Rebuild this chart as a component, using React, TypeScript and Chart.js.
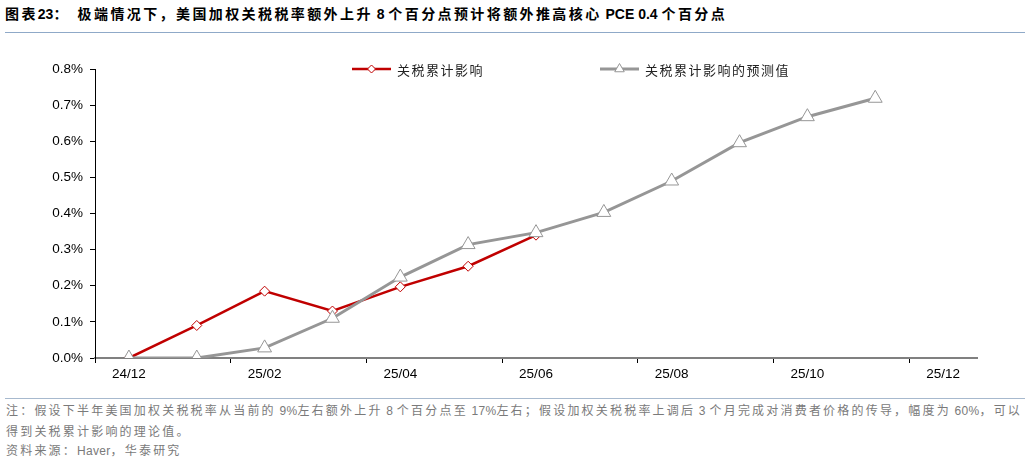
import React, { useEffect, useRef } from "react";
import { Chart, registerables } from "chart.js";

Chart.register(...registerables);

// ---- data ----
const categories = [
  "24/12", "25/01", "25/02", "25/03", "25/04", "25/05", "25/06",
  "25/07", "25/08", "25/09", "25/10", "25/11", "25/12",
];
const actualImpact = [0, 0.09, 0.185, 0.13, 0.197, 0.254, 0.34, null, null, null, null, null, null];
const forecastImpact = [0, 0, 0.028, 0.11, 0.224, 0.314, 0.347, 0.403, 0.49, 0.596, 0.668, 0.719, null];
const seriesNames = ["关税累计影响", "关税累计影响的预测值"];
const yMin = 0;
const yMax = 0.8;
const yStep = 0.1;

const titleText =
  "图表23：  极端情况下，美国加权关税税率额外上升 8 个百分点预计将额外推高核心 PCE 0.4 个百分点";
const noteLine1 =
  "注：假设下半年美国加权关税税率从当前的 9%左右额外上升 8 个百分点至 17%左右；假设加权关税税率上调后 3 个月完成对消费者价格的传导，幅度为 60%，可以";
const noteLine2 = "得到关税累计影响的理论值。";
const sourceLine = "资料来源：Haver，华泰研究";

const RED = "#C00000";
const GRAY = "#969696";

function drawMarker(ctx: CanvasRenderingContext2D, style: string, x: number, y: number, r: number, stroke: string) {
  ctx.save();
  ctx.beginPath();
  if (style === "rectRot") {
    ctx.moveTo(x, y - r);
    ctx.lineTo(x + r, y);
    ctx.lineTo(x, y + r);
    ctx.lineTo(x - r, y);
    ctx.closePath();
  } else {
    const a = Math.PI / 2;
    ctx.moveTo(x + Math.cos(-a) * r, y + Math.sin(-a) * r);
    ctx.lineTo(x + Math.cos(-a + (2 * Math.PI) / 3) * r, y + Math.sin(-a + (2 * Math.PI) / 3) * r);
    ctx.lineTo(x + Math.cos(-a + (4 * Math.PI) / 3) * r, y + Math.sin(-a + (4 * Math.PI) / 3) * r);
    ctx.closePath();
  }
  ctx.fillStyle = "#ffffff";
  ctx.fill();
  ctx.lineWidth = 1;
  ctx.strokeStyle = stroke;
  ctx.stroke();
  ctx.restore();
}

const fixedLegend = {
  id: "fixedLegend",
  afterDraw(chart: any) {
    const opts = chart.options.plugins.fixedLegend;
    if (!opts || !opts.items) return;
    const ctx: CanvasRenderingContext2D = chart.ctx;
    const y = opts.y;
    opts.items.forEach((it: any) => {
      const ds = chart.data.datasets[it.datasetIndex];
      ctx.save();
      ctx.strokeStyle = ds.borderColor;
      ctx.lineWidth = ds.borderWidth;
      ctx.beginPath();
      ctx.moveTo(it.x, y);
      ctx.lineTo(it.x + opts.lineLength, y);
      ctx.stroke();
      ctx.restore();
      drawMarker(ctx, ds.pointStyle, it.x + opts.lineLength / 2, y, it.markerRadius, ds.pointBorderColor);
      ctx.save();
      (ctx as any).letterSpacing = opts.letterSpacing;
      ctx.font = opts.font;
      ctx.fillStyle = opts.color;
      ctx.textBaseline = "middle";
      ctx.textAlign = "left";
      ctx.fillText(ds.label, it.x + opts.lineLength + opts.textGap, y + 1);
      ctx.restore();
    });
  },
};

function TariffChart() {
  const ref = useRef<HTMLCanvasElement | null>(null);
  useEffect(() => {
    if (!ref.current) return;
    const chart = new Chart(ref.current, {
      type: "line",
      data: {
        labels: categories,
        datasets: [
          {
            label: seriesNames[0],
            data: actualImpact,
            borderColor: RED,
            borderWidth: 2.5,
            pointStyle: "rectRot",
            pointRadius: 5,
            pointHoverRadius: 5,
            pointBackgroundColor: "#ffffff",
            pointBorderColor: RED,
            pointBorderWidth: 1,
            tension: 0,
            spanGaps: false,
            order: 1,
          },
          {
            label: seriesNames[1],
            data: forecastImpact,
            borderColor: GRAY,
            borderWidth: 3,
            pointStyle: "triangle",
            pointRadius: 8,
            pointHoverRadius: 8,
            pointBackgroundColor: "#ffffff",
            pointBorderColor: GRAY,
            pointBorderWidth: 1,
            tension: 0,
            spanGaps: false,
            order: 0,
          },
        ] as any,
      },
      plugins: [fixedLegend],
      options: {
        responsive: false,
        animation: false,
        layout: { padding: { top: 29, right: 53, left: 0, bottom: 0 } },
        plugins: {
          legend: { display: false },
          tooltip: { enabled: false },
          title: { display: false },
          fixedLegend: {
            y: 29,
            lineLength: 39,
            textGap: 6,
            font: "13px 'Noto Sans CJK SC'",
            letterSpacing: "1.5px",
            color: "#222222",
            items: [
              { datasetIndex: 0, x: 352, markerRadius: 4 },
              { datasetIndex: 1, x: 600, markerRadius: 5.5 },
            ],
          },
        } as any,
        scales: {
          x: {
            type: "category",
            offset: true,
            afterFit: (scale: any) => {
              scale.height = 32;
            },
            grid: {
              display: true,
              drawOnChartArea: false,
              drawTicks: true,
              tickLength: 5,
              offset: true,
              color: (c: any) => (typeof c.index === "number" && c.index % 2 === 0 ? "#000000" : "rgba(0,0,0,0)"),
              lineWidth: 1,
            },
            border: { display: true, color: "#808080", width: 2 },
            ticks: {
              autoSkip: false,
              maxRotation: 0,
              minRotation: 0,
              padding: 3,
              color: "#000000",
              font: { family: "'Liberation Sans', Arial", size: 13.5 },
              callback: (_v: any, i: number) => (i % 2 === 0 ? categories[i] : ""),
            },
          },
          y: {
            min: yMin,
            max: yMax,
            afterFit: (scale: any) => {
              scale.width = 95;
            },
            grid: {
              display: true,
              drawOnChartArea: false,
              drawTicks: true,
              tickLength: 5,
              color: "#000000",
              lineWidth: 1,
            },
            border: { display: true, color: "#000000", width: 1 },
            ticks: {
              stepSize: yStep,
              padding: 7,
              color: "#000000",
              font: { family: "'Liberation Sans', Arial", size: 13.5 },
              callback: (v: any) => Number(v).toFixed(1) + "%",
            },
          },
        },
      } as any,
    });
    return () => chart.destroy();
  }, []);
  return (
    <canvas
      ref={ref}
      width={1030}
      height={350}
      style={{ position: "absolute", left: 0, top: 40, width: 1030, height: 350 }}
    />
  );
}

// CJK runs get letter spacing, ASCII runs keep natural spacing
function Spaced({ text, cjkSpacing, asciiSpacing = 0 }: { text: string; cjkSpacing: number; asciiSpacing?: number }) {
  const parts = text.match(/[\x00-\x7F]+|[^\x00-\x7F]+/g) || [];
  return (
    <>
      {parts.map((p, i) => (
        <span key={i} style={{ letterSpacing: /^[\x00-\x7F]+$/.test(p) ? asciiSpacing : cjkSpacing }}>
          {p}
        </span>
      ))}
    </>
  );
}

export default function App() {
  return (
    <div
      style={{
        position: "fixed",
        left: 0,
        top: 0,
        width: 1030,
        height: 464,
        background: "#ffffff",
        overflow: "hidden",
        fontFamily: "'Liberation Sans', 'Noto Sans CJK SC', sans-serif",
      }}
    >
      <div
        style={{
          position: "absolute",
          left: 5,
          top: 4,
          fontSize: 14,
          fontWeight: 700,
          whiteSpace: "pre",
          color: "#000",
          lineHeight: "20px",
        }}
      >
        <Spaced text={titleText} cjkSpacing={2.4} />
      </div>
      <div style={{ position: "absolute", left: 5, top: 32, width: 1020, height: 1, background: "#8FA9C8" }} />
      <TariffChart />
      <div style={{ position: "absolute", left: 5, top: 398, width: 1020, height: 1, background: "#A7B9CE" }} />
      {[noteLine1, noteLine2, sourceLine].map((t, i) => (
        <div
          key={i}
          style={{
            position: "absolute",
            left: 6,
            top: [403, 424, 443][i],
            fontSize: 12,
            lineHeight: "17px",
            whiteSpace: "pre",
            color: "#7a7a7a",
          }}
        >
          <Spaced text={t} cjkSpacing={2.2} asciiSpacing={0.3} />
        </div>
      ))}
    </div>
  );
}
